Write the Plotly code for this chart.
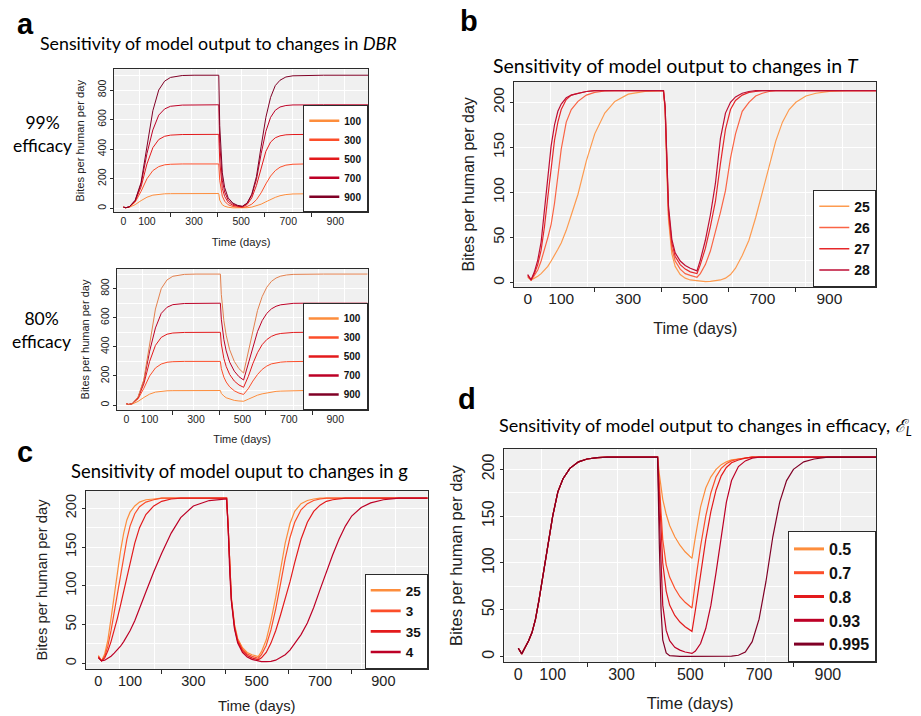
import plotly.graph_objects as go

W, H = 921, 716

# ---------------- data ----------------
T_A = [0, 10, 25, 50, 75, 100, 125, 150, 175, 200, 250, 300, 405, 409, 414, 420, 430, 445, 465,
       485, 505, 525, 545, 565, 585, 605, 625, 645, 665, 690, 720, 770, 850, 1040]

DBR_LABELS = ["100", "300", "500", "700", "900"]

A99_100 = [8, 4, 7, 25, 52, 75, 89, 95, 98, 99, 100, 100, 100, 55, 35, 24, 14, 7, 3, 2, 2,
           4, 8, 16, 28, 44, 60, 74, 85, 93, 97, 99, 100, 100]
A99_300 = [8, 4, 9, 42, 115, 200, 255, 282, 294, 298, 300, 300, 300, 190, 125, 82, 48, 24, 12, 7, 5,
           12, 28, 58, 105, 165, 218, 255, 278, 292, 298, 300, 300, 300]
A99_500 = [8, 4, 10, 48, 145, 300, 410, 465, 487, 495, 499, 500, 500, 320, 205, 135, 80, 40, 20, 12, 9,
           25, 70, 155, 280, 385, 448, 477, 490, 497, 499, 500, 500, 500]
A99_700 = [8, 4, 10, 52, 165, 370, 530, 630, 672, 690, 698, 700, 700, 440, 285, 190, 110, 55, 28, 16, 12,
           32, 88, 195, 370, 520, 615, 663, 685, 695, 699, 700, 700, 700]
A99_900 = [8, 4, 10, 55, 175, 420, 660, 800, 860, 885, 898, 900, 900, 560, 360, 240, 140, 70, 35, 20, 14,
           35, 95, 215, 420, 615, 750, 830, 866, 888, 896, 899, 900, 900]

A80_100 = [8, 4, 7, 25, 52, 75, 89, 95, 98, 99, 100, 100, 100, 80, 70, 62, 50, 40, 32, 28, 26,
           40, 56, 68, 77, 84, 90, 94, 96, 98, 99, 100, 100, 100]
A80_300 = [8, 4, 9, 42, 115, 200, 255, 282, 294, 298, 300, 300, 300, 250, 218, 192, 158, 125, 98, 82, 73,
           112, 165, 210, 245, 268, 283, 291, 295, 298, 300, 300, 300, 300]
A80_500 = [8, 4, 10, 48, 145, 300, 410, 465, 487, 495, 499, 500, 500, 420, 365, 320, 265, 210, 165, 138, 122,
           195, 285, 360, 415, 450, 472, 485, 492, 497, 499, 500, 500, 500]
A80_700 = [8, 4, 10, 52, 165, 370, 530, 630, 672, 690, 698, 700, 700, 590, 512, 450, 372, 295, 233, 195, 172,
           280, 400, 505, 580, 630, 661, 679, 689, 695, 699, 700, 700, 700]
A80_900 = [8, 4, 10, 55, 175, 420, 660, 800, 860, 885, 898, 900, 900, 760, 660, 580, 480, 380, 300, 250, 220,
           370, 520, 650, 745, 810, 850, 873, 886, 894, 898, 900, 900, 900]

T_B = [0, 10, 20, 30, 40, 50, 60, 70, 80, 90, 100, 115, 130, 150, 175, 200, 230, 260, 300, 350, 405,
       410, 415, 420, 430, 440, 455, 470, 485, 505,
       515, 530, 545, 560, 575, 590, 605, 620, 640, 660, 680, 700, 720, 740, 760, 780, 800, 830, 860,
       900, 950, 1040]

T_LABELS = ["25", "26", "27", "28"]
B_25 = [6, 3, 5, 7, 10, 14, 18, 24, 30, 37, 44, 58, 75, 98, 135, 165, 188, 201, 209, 212, 213,
        190, 125, 70, 32, 18, 9, 5, 3, 2,
        1.5, 1.2, 1.5, 2, 3, 5, 9, 16, 30, 47, 72, 100, 130, 157, 178, 192, 200, 207, 210, 212, 213, 213]
B_26 = [7, 3, 8, 14, 24, 36, 50, 65, 88, 118, 148, 178, 192, 201, 208, 211, 212.5, 213, 213, 213, 213,
        193, 130, 75, 38, 24, 15, 10, 8, 6,
        10, 20, 35, 55, 78, 102, 138, 165, 190, 200, 207, 210, 212, 213, 213, 213, 213, 213, 213, 213, 213, 213]
B_27 = [8, 3, 10, 20, 36, 62, 95, 128, 158, 178, 192, 203, 208, 210, 212, 213, 213, 213, 213, 213, 213,
        195, 135, 80, 44, 29, 20, 15, 12, 10,
        20, 38, 62, 90, 132, 170, 192, 202, 208, 211, 212, 213, 213, 213, 213, 213, 213, 213, 213, 213, 213, 213]
B_28 = [9, 3, 12, 25, 45, 80, 120, 152, 175, 190, 198, 205, 208, 210, 212, 213, 213, 213, 213, 213, 213,
        195, 140, 85, 48, 33, 24, 19, 16, 13,
        25, 47, 75, 110, 160, 188, 200, 206, 210, 212, 213, 213, 213, 213, 213, 213, 213, 213, 213, 213, 213, 213]

G_LABELS = ["25", "3", "35", "4"]
C_25 = [10, 3, 12, 30, 58, 88, 115, 145, 168, 185, 195, 203, 208, 211, 212, 213, 213, 213, 213, 213, 213,
        175, 120, 85, 50, 32, 20, 14, 11, 8.6,
        15, 30, 55, 85, 120, 155, 180, 196, 206, 210, 212, 213, 213, 213, 213, 213, 213, 213, 213, 213, 213, 213]
C_3 = [9, 3, 9, 22, 42, 66, 90, 115, 140, 160, 177, 193, 202, 208, 211, 213, 213, 213, 213, 213, 213,
       175, 118, 83, 48, 30, 18, 12, 9, 6.5,
       11, 23, 43, 70, 102, 135, 162, 182, 198, 206, 210, 212, 213, 213, 213, 213, 213, 213, 213, 213, 213, 213]
C_35 = [8, 3, 7, 16, 28, 42, 58, 75, 93, 112, 130, 155, 175, 192, 203, 209, 212, 213, 213, 213, 213,
        175, 117, 82, 46, 28, 16, 10, 7, 4.5,
        7, 14, 26, 42, 62, 83, 105, 130, 160, 182, 196, 204, 209, 211, 212, 213, 213, 213, 213, 213, 213, 213]
C_4 = [7, 3, 4, 6, 9, 13, 17, 22, 28, 35, 42, 55, 70, 92, 118, 142, 168, 188, 203, 210, 212,
       174, 116, 80, 44, 26, 14, 8, 5, 3,
       2.2, 2, 2.5, 4, 7, 11, 17, 25, 37, 52, 72, 95, 118, 140, 160, 177, 190, 201, 207, 211, 213, 213]

E_LABELS = ["0.5", "0.7", "0.8", "0.93", "0.995"]
D_PRE = [9, 3, 10, 17, 26, 40, 60, 82, 106, 130, 150, 176, 190, 201, 208, 211, 212.5, 213, 213, 213, 213]
D_05 = [195, 180, 168, 152, 140, 128, 119, 112, 105,
        128, 160, 180, 192, 200, 205, 208, 210, 211, 212, 213, 213, 213, 213, 213, 213, 213, 213, 213, 213, 213, 213]
D_07 = [185, 150, 125, 98, 85, 73, 64, 58, 52,
        80, 118, 150, 175, 192, 201, 206, 209, 211, 212, 213, 213, 213, 213, 213, 213, 213, 213, 213, 213, 213, 213]
D_08 = [175, 130, 100, 70, 55, 44, 37, 32, 27,
        50, 88, 125, 155, 178, 193, 202, 207, 210, 212, 213, 213, 213, 213, 213, 213, 213, 213, 213, 213, 213, 213]
D_093 = [150, 90, 55, 28, 17, 10, 7, 5, 3.5,
         6, 14, 30, 55, 90, 130, 165, 188, 203, 209, 212, 213, 213, 213, 213, 213, 213, 213, 213, 213, 213, 213]
D_0995 = [120, 50, 18, 4, 1, 0.3, 0.2, 0.2, 0.2,
          0.2, 0.2, 0.2, 0.2, 0.2, 0.2, 0.3, 0.5, 1.5, 5, 16, 40, 80, 128, 165, 188, 200, 208, 211, 213, 213, 213]

X_LABEL_TICKS = [0, 100, 300, 500, 700, 900]
X_MARK_TICKS = [200, 400, 600, 800]
X_GRID_MAJOR = [68, 288, 500, 720, 938]
X_GRID_MINOR = [178, 395, 610, 830]

PAL5 = ["#FD8D3C", "#FC4E2A", "#E31A1C", "#BD0026", "#800026"]
PAL_B = ["#FD9B50", "#FA6445", "#E6282A", "#BE0E34"]
A80_LINE_COLORS = ["#FD8D3C", "#FC4E2A", "#E31A1C", "#BD0026", "#E3804E"]

# ---------------- helpers ----------------
ARIAL = "Liberation Sans, Arial, sans-serif"
LATO = "Lato, Open Sans, sans-serif"
DARK = "#2b2b2b"


def fx(p):
    return p / W


def fy(p):
    return 1 - p / H


panels = [
    dict(n=1, box=(114, 368.3, 69.3, 212.3), xr=[-40, 1040], yr=[-27, 940], yt=[0, 200, 400, 600, 800],
         ymd=100, tf=10.5, ttf=11.2, ystand=8, xstand=12),
    dict(n=2, box=(116.7, 367.7, 269, 410), xr=[-42, 1040], yr=[-34, 935], yt=[0, 200, 400, 600, 800],
         ymd=100, tf=10.5, ttf=11.0, ystand=6, xstand=11),
    dict(n=3, box=(514.3, 876.3, 82, 286.7), xr=[-40, 1040], yr=[-4.5, 222.5], yt=[0, 50, 100, 150, 200],
         ymd=25, tf=15.5, ttf=16, ystand=11, xstand=16),
    dict(n=4, box=(85.7, 427.7, 491, 669), xr=[-40, 1040], yr=[-7.4, 222.3], yt=[0, 50, 100, 150, 200],
         ymd=25, tf=14.5, ttf=14.8, ystand=11, xstand=13),
    dict(n=5, box=(504.3, 876, 449, 662), xr=[-40.7, 1040], yr=[-5.7, 221.7], yt=[0, 50, 100, 150, 200],
         ymd=25, tf=16, ttf=16.6, ystand=13, xstand=15),
]

fig = go.Figure()


def ax(n):
    return "" if n == 1 else str(n)


def add_series(n, t, ys, colors, width, names, legend_colors, legend_width, legend_id):
    for y, c in zip(ys, colors):
        fig.add_trace(go.Scatter(x=t, y=y, mode="lines", line=dict(color=c, width=width),
                                 xaxis="x" + ax(n), yaxis="y" + ax(n), showlegend=False,
                                 hoverinfo="skip"))
    for i, (name, c) in enumerate(zip(names, legend_colors)):
        fig.add_trace(go.Scatter(x=[None], y=[None], mode="lines", name=name,
                                 line=dict(color=c, width=legend_width),
                                 xaxis="x" + ax(n), yaxis="y" + ax(n),
                                 legend=legend_id, legendgroup=f"{legend_id}_{i}"))


add_series(1, T_A, [A99_100, A99_300, A99_500, A99_700, A99_900], PAL5, 1.0,
           DBR_LABELS, PAL5, 2.6, "legend")
add_series(2, T_A, [A80_100, A80_300, A80_500, A80_700, A80_900], A80_LINE_COLORS, 1.0,
           DBR_LABELS, PAL5, 2.6, "legend2")
add_series(3, T_B, [B_25, B_26, B_27, B_28], PAL_B, 1.2, T_LABELS, PAL_B, 1.5, "legend3")
add_series(4, T_B, [C_25, C_3, C_35, C_4], PAL5[:4], 1.2, G_LABELS, PAL5[:4], 2.6, "legend4")
add_series(5, T_B, [D_PRE + D_05, D_PRE + D_07, D_PRE + D_08, D_PRE + D_093, D_PRE + D_0995],
           PAL5, 1.2, E_LABELS, PAL5, 3.0, "legend5")

layout = dict(width=W, height=H, margin=dict(l=0, r=0, t=0, b=0, autoexpand=False),
              paper_bgcolor="white", plot_bgcolor="#F0F0F0", showlegend=True)

for p in panels:
    n = p["n"]
    x0, x1, y0, y1 = p["box"]
    on = n + 5
    layout["xaxis" + ax(n)] = dict(
        domain=[fx(x0), fx(x1)], range=p["xr"], anchor="y" + ax(n),
        tickmode="array", tickvals=X_GRID_MAJOR, showticklabels=False, ticks="",
        showgrid=True, gridcolor="white", gridwidth=1.1, zeroline=False,
        minor=dict(tickmode="array", tickvals=X_GRID_MINOR, showgrid=True, gridcolor="white",
                   gridwidth=0.6, ticks=""),
        showline=True, mirror=True, linecolor=DARK, linewidth=1)
    layout["xaxis" + str(on)] = dict(
        overlaying="x" + ax(n), anchor="y" + ax(n), range=p["xr"], side="bottom",
        tickmode="array", tickvals=X_LABEL_TICKS, ticktext=[str(v) for v in X_LABEL_TICKS],
        ticks="", showgrid=False, zeroline=False, showline=False,
        tickfont=dict(family=ARIAL, size=p["tf"], color="#222"), ticklabelstandoff=1,
        minor=dict(tickmode="array", tickvals=X_MARK_TICKS, ticks="outside", ticklen=4,
                   tickcolor=DARK, tickwidth=1, showgrid=False),
        title=dict(text="Time (days)", font=dict(family=ARIAL, size=p["ttf"], color="#222"),
                   standoff=p["xstand"]))
    layout["yaxis" + ax(n)] = dict(
        domain=[fy(y1), fy(y0)], range=p["yr"], anchor="x" + ax(n),
        tickmode="array", tickvals=p["yt"], ticks="outside", ticklen=3, tickcolor=DARK,
        tickangle=-90, tickfont=dict(family=ARIAL, size=p["tf"], color="#222"),
        showgrid=True, gridcolor="white", gridwidth=1.1, zeroline=False,
        minor=dict(dtick=p["ymd"], showgrid=True, gridcolor="white", gridwidth=0.6, ticks=""),
        showline=True, mirror=True, linecolor=DARK, linewidth=1,
        title=dict(text="Bites per human per day", font=dict(family=ARIAL, size=p["ttf"], color="#222"),
                   standoff=p["ystand"]))
    # invisible trace so the label axis is drawn
    fig.add_trace(go.Scatter(x=[None], y=[None], xaxis="x" + str(on), yaxis="y" + ax(n),
                             showlegend=False, hoverinfo="skip"))

leg_specs = [("legend", 1, 10, 0), ("legend2", 2, 10, 0), ("legend3", 3, 14, 3.5),
             ("legend4", 4, 13.5, 1), ("legend5", 5, 16, 2)]
for lid, n, fs, gap in leg_specs:
    x0, x1, y0, y1 = panels[n - 1]["box"]
    layout[lid] = dict(x=fx(x1), y=fy(y1), xanchor="right", yanchor="bottom",
                       bgcolor="white", bordercolor=DARK, borderwidth=1,
                       font=dict(family=ARIAL, size=fs, color="#111", weight="bold"),
                       tracegroupgap=gap, itemwidth=30, traceorder="normal")

fig.update_layout(**layout)

ann = []
# panel letters
for txt, x, y in [("a", 25, 24), ("b", 469, 21), ("c", 25, 452), ("d", 467, 399)]:
    ann.append(dict(text=f"<b>{txt}</b>", x=fx(x), y=fy(y), xref="paper", yref="paper",
                    xanchor="center", yanchor="middle", showarrow=False,
                    font=dict(family=ARIAL, size=29, color="black")))
# titles
ann.append(dict(text="Sensitivity of model output to changes in <i>DBR</i>", x=fx(218.7), y=fy(43.3),
                xref="paper", yref="paper", xanchor="center", yanchor="middle", showarrow=False,
                font=dict(family=LATO, size=17.8, color="black")))
ann.append(dict(text="Sensitivity of model output to changes in <i>T</i>", x=fx(676), y=fy(65),
                xref="paper", yref="paper", xanchor="center", yanchor="middle", showarrow=False,
                font=dict(family=LATO, size=19.5, color="black")))
ann.append(dict(text="Sensitivity of model ouput to changes in g", x=fx(239.7), y=fy(471),
                xref="paper", yref="paper", xanchor="center", yanchor="middle", showarrow=False,
                font=dict(family=LATO, size=18.4, color="black")))
ann.append(dict(text="Sensitivity of model output to changes in efficacy, <i>ℰ<sub>L</sub></i>",
                x=fx(496.7), y=fy(426.7), xref="paper", yref="paper", xanchor="left", yanchor="middle",
                showarrow=False, font=dict(family=LATO, size=18, color="black")))
# efficacy row labels
ann.append(dict(text="99%<br>efficacy", x=fx(42), y=fy(134), xref="paper", yref="paper",
                xanchor="center", yanchor="middle", showarrow=False,
                font=dict(family=LATO, size=17.5, color="black")))
ann.append(dict(text="80%<br>efficacy", x=fx(41), y=fy(329.5), xref="paper", yref="paper",
                xanchor="center", yanchor="middle", showarrow=False,
                font=dict(family=LATO, size=17.5, color="black")))
fig.update_layout(annotations=ann)

fig.write_html("out.html", config={"displayModeBar": False},
               post_script="document.body.style.margin='0';document.body.style.overflow='hidden';")
